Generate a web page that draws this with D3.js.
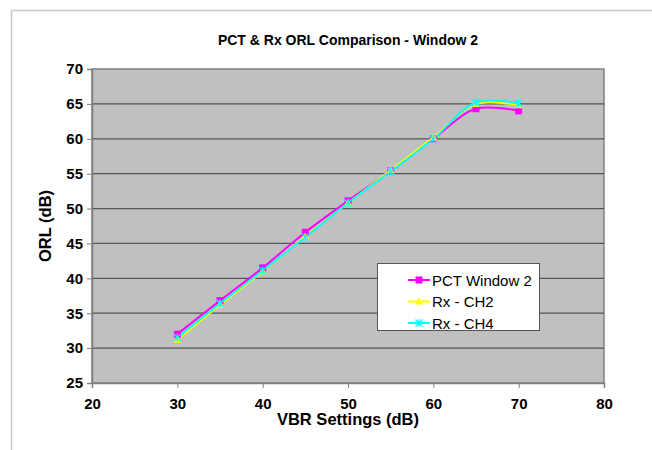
<!DOCTYPE html>
<html>
<head>
<meta charset="UTF-8">
<script src="https://d3js.org/d3.v7.min.js"></script>
<style>
  body { margin: 0; background: #fff; }
  svg { display: block; font-family: "Liberation Sans", Arial, sans-serif; }
</style>
</head>
<body>
<svg id="chart" width="652" height="450"></svg>
<script>
const vbr = [30, 35, 40, 45, 50, 55, 60, 65, 70];
const pctWindow2 = [32.0, 36.8, 41.5, 46.6, 51.1, 55.4, 60.0, 64.3, 64.0];
const rxCh2 = [31.2, 36.2, 41.0, 46.0, 50.8, 55.5, 60.2, 65.0, 64.8];
const rxCh4 = [31.5, 36.4, 41.1, 45.9, 50.8, 55.3, 60.0, 65.2, 65.1];
const xTicks = [20, 30, 40, 50, 60, 70, 80];
const yTicks = [25, 30, 35, 40, 45, 50, 55, 60, 65, 70];

const series = [
  { name: "PCT Window 2", values: pctWindow2, color: "#ff00ff", marker: "square" },
  { name: "Rx - CH2", values: rxCh2, color: "#ffff00", marker: "triangle" },
  { name: "Rx - CH4", values: rxCh4, color: "#00ffff", marker: "star" }
];

const svg = d3.select("#chart");
const plot = { left: 92, top: 69, right: 604, bottom: 383 };

const x = d3.scaleLinear().domain([20, 80]).range([plot.left, plot.right]);
const y = d3.scaleLinear().domain([25, 70]).range([plot.bottom, plot.top]);

// cadre extérieur
svg.append("rect")
  .attr("x", 11.5).attr("y", 10.5)
  .attr("width", 660).attr("height", 460)
  .attr("fill", "none").attr("stroke", "#cfc8bf").attr("stroke-width", 1.5);

// zone de tracé
svg.append("rect")
  .attr("x", plot.left).attr("y", plot.top)
  .attr("width", plot.right - plot.left).attr("height", plot.bottom - plot.top)
  .attr("fill", "#c0c0c0").attr("stroke", "#808080").attr("stroke-width", 1.5);

// grille
svg.append("g").selectAll("line")
  .data(yTicks.filter(d => d > 25 && d < 70))
  .join("line")
  .attr("x1", plot.left).attr("x2", plot.right)
  .attr("y1", d => y(d)).attr("y2", d => y(d))
  .attr("stroke", "#555").attr("stroke-width", 1.3);

// axes
const yAxis = svg.append("g")
  .attr("transform", `translate(${plot.left},0)`)
  .call(d3.axisLeft(y).tickValues(yTicks).tickSize(5).tickPadding(4));
const xAxis = svg.append("g")
  .attr("transform", `translate(0,${plot.bottom})`)
  .call(d3.axisBottom(x).tickValues(xTicks).tickSize(5).tickPadding(10));

[yAxis, xAxis].forEach(a => {
  a.select(".domain").attr("stroke", "#808080").attr("stroke-width", 1.5);
  a.selectAll(".tick line").attr("stroke", "#808080");
  a.selectAll(".tick text")
    .attr("font-size", 15).attr("font-weight", "bold").attr("fill", "#000")
    .attr("font-family", "'Liberation Sans', Arial, sans-serif");
});

// titres
svg.append("text")
  .attr("x", 348).attr("y", 45).attr("text-anchor", "middle")
  .attr("font-size", 14).attr("font-weight", "bold")
  .text("PCT & Rx ORL Comparison - Window 2");
svg.append("text")
  .attr("x", 348).attr("y", 425).attr("text-anchor", "middle")
  .attr("font-size", 16.5).attr("font-weight", "bold")
  .text("VBR Settings (dB)");
svg.append("text")
  .attr("transform", "translate(51,226) rotate(-90)")
  .attr("text-anchor", "middle")
  .attr("font-size", 16.5).attr("font-weight", "bold")
  .text("ORL (dB)");

const line = d3.line()
  .x((d, i) => x(vbr[i]))
  .y(d => y(d))
  .curve(d3.curveCatmullRom.alpha(0.5));

function drawMarker(g, type, color, cx, cy) {
  if (type === "square") {
    g.append("rect").attr("x", cx - 3.5).attr("y", cy - 3.5)
      .attr("width", 7).attr("height", 7).attr("fill", color);
  } else if (type === "triangle") {
    g.append("path")
      .attr("d", `M${cx},${cy - 4}L${cx + 4},${cy + 3}L${cx - 4},${cy + 3}Z`)
      .attr("fill", color);
  } else {
    g.append("path")
      .attr("d", `M${cx - 3.5},${cy - 3.5}L${cx + 3.5},${cy + 3.5}M${cx + 3.5},${cy - 3.5}L${cx - 3.5},${cy + 3.5}M${cx},${cy - 4}L${cx},${cy + 4}`)
      .attr("stroke", color).attr("stroke-width", 1.3).attr("fill", "none");
  }
}

const linesG = svg.append("g");
series.forEach(s => {
  linesG.append("path")
    .attr("d", line(s.values))
    .attr("fill", "none").attr("stroke", s.color).attr("stroke-width", 2);
});
series.forEach(s => {
  const mg = linesG.append("g");
  s.values.forEach((v, i) => drawMarker(mg, s.marker, s.color, x(vbr[i]), y(v)));
});

// légende
const legend = svg.append("g");
legend.append("rect")
  .attr("x", 377.5).attr("y", 263.5).attr("width", 162).attr("height", 67)
  .attr("fill", "#fff").attr("stroke", "#555").attr("stroke-width", 1);
series.forEach((s, i) => {
  const ly = 280 + i * 21.5;
  legend.append("line")
    .attr("x1", 408).attr("x2", 430).attr("y1", ly).attr("y2", ly)
    .attr("stroke", s.color).attr("stroke-width", 2);
  drawMarker(legend, s.marker, s.color, 419, ly);
  legend.append("text")
    .attr("x", 432).attr("y", ly + 5.5)
    .attr("font-size", 15).attr("fill", "#000")
    .text(s.name);
});
</script>
</body>
</html>
